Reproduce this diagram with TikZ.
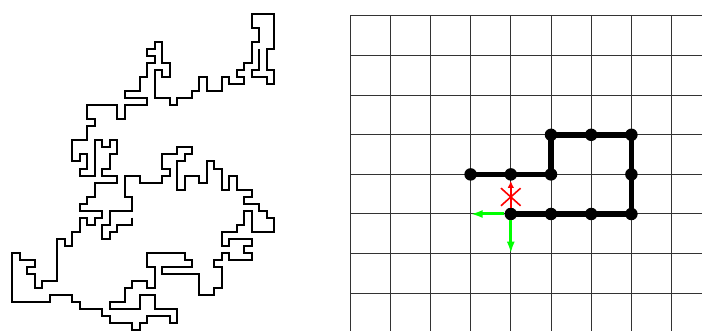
\documentclass[tikz,border=0pt]{standalone}
\usepackage{tikz}
\usetikzlibrary{arrows.meta,shapes.misc}

\tikzset{
  site/.style={circle,fill=black,inner sep=0pt,minimum size=12.5pt},
  lattice/.style={line width=1pt,black!80},
  walk/.style={line width=2pt},
  chain/.style={line width=5.5pt,line join=round},
  blocked/.style={-{Latex[length=7pt,width=6.5pt]},red,line width=2pt},
  allowed/.style={-{Latex[length=12pt,width=8pt]},green,line width=3pt}
}

\begin{document}
\begin{tikzpicture}[x=1pt,y=-1pt]
 \useasboundingbox (0,0) rectangle (702,331);
 \begin{scope}[shift={(12.3pt,-14pt)},x=7.487pt,y=-7.023pt]
 \draw[walk] (16,29) -- (16,30) -- (14,30) -- (14,31) -- (13,31) -- (13,32) -- (12,32) -- (12,30)
   -- (13,30) -- (13,28) -- (16,28) -- (16,26) -- (15,26) -- (15,23) -- (17,23) -- (17,24)
   -- (20,24) -- (20,23) -- (21,23) -- (21,22) -- (20,22) -- (20,20) -- (22,20) -- (22,19)
   -- (24,19) -- (24,20) -- (23,20) -- (23,21) -- (22,21) -- (22,25) -- (23,25) -- (23,23)
   -- (25,23) -- (25,24) -- (26,24) -- (26,21) -- (27,21) -- (27,22) -- (28,22) -- (28,25)
   -- (29,25) -- (29,23) -- (30,23) -- (30,25) -- (32,25) -- (32,26) -- (31,26) -- (31,27)
   -- (33,27) -- (33,28) -- (34,28) -- (34,29) -- (35,29) -- (35,31) -- (32,31) -- (32,28)
   -- (31,28) -- (31,30) -- (30,30) -- (30,31) -- (28,31) -- (28,33) -- (29,33) -- (29,32)
   -- (32,32) -- (32,33) -- (31,33) -- (31,34) -- (32,34) -- (32,35) -- (29,35) -- (29,34)
   -- (28,34) -- (28,35) -- (27,35) -- (27,36) -- (28,36) -- (28,39) -- (27,39) -- (27,40)
   -- (25,40) -- (25,37) -- (20,37) -- (20,36) -- (24,36) -- (24,35) -- (23,35) -- (23,34)
   -- (18,34) -- (18,36) -- (19,36) -- (19,39) -- (18,39) -- (18,38) -- (16,38) -- (16,39)
   -- (15,39) -- (15,41) -- (13,41) -- (13,42) -- (17,42) -- (17,40) -- (19,40) -- (19,42)
   -- (22,42) -- (22,44) -- (21,44) -- (21,43) -- (18,43) -- (18,44) -- (17,44) -- (17,45)
   -- (16,45) -- (16,44) -- (13,44) -- (13,43) -- (12,43) -- (12,42) -- (9,42) -- (9,41)
   -- (8,41) -- (8,40) -- (5,40) -- (5,41) -- (0,41) -- (0,34) -- (1,34) -- (1,35)
   -- (3,35) -- (3,36) -- (2,36) -- (2,37) -- (3,37) -- (3,39) -- (4,39) -- (4,38)
   -- (6,38) -- (6,32) -- (7,32) -- (7,33) -- (8,33) -- (8,31) -- (9,31) -- (9,29)
   -- (10,29) -- (10,30) -- (11,30) -- (11,29) -- (12,29) -- (12,28) -- (9,28) -- (9,27)
   -- (10,27) -- (10,26) -- (11,26) -- (11,24) -- (14,24) -- (14,23) -- (12,23) -- (12,22)
   -- (13,22) -- (13,20) -- (14,20) -- (14,18) -- (13,18) -- (13,19) -- (12,19) -- (12,18)
   -- (11,18) -- (11,23) -- (9,23) -- (9,22) -- (10,22) -- (10,20) -- (9,20) -- (9,21)
   -- (8,21) -- (8,18) -- (10,18) -- (10,16) -- (11,16) -- (11,15) -- (10,15) -- (10,13)
   -- (14,13) -- (14,15) -- (15,15) -- (15,13) -- (18,13) -- (18,12) -- (15,12) -- (15,11)
   -- (17,11) -- (17,9) -- (18,9) -- (18,7) -- (19,7) -- (19,6) -- (18,6) -- (18,5)
   -- (19,5) -- (19,4) -- (20,4) -- (20,7) -- (21,7) -- (21,9) -- (20,9) -- (20,8)
   -- (19,8) -- (19,12) -- (21,12) -- (21,13) -- (22,13) -- (22,12) -- (24,12) -- (24,11)
   -- (25,11) -- (25,9) -- (26,9) -- (26,11) -- (28,11) -- (28,9) -- (29,9) -- (29,10)
   -- (31,10) -- (31,9) -- (30,9) -- (30,8) -- (31,8) -- (31,7) -- (32,7) -- (32,4)
   -- (33,4) -- (33,2) -- (32,2) -- (32,0) -- (35,0) -- (35,5) -- (34,5) -- (34,8)
   -- (35,8) -- (35,10) -- (34,10) -- (34,9) -- (32,9) -- (32,8) -- (33,8) -- (33,5);
 \end{scope}
 \begin{scope}[shift={(350pt,-16pt)},x=40.2pt,y=-39.6pt]
 \foreach \c in {0,...,8} \draw[lattice] (\c,0) -- (\c,7.96);
 \foreach \r in {0,...,7} \draw[lattice] (0,\r) -- (8.76,\r);
 \foreach \p [count=\k] in {(3,4),(4,4),(5,4),(5,3),(6,3),(7,3),(7,4),(7,5),(6,5),(5,5),(4,5)}
   \node[site] (p\k) at \p {};
 \draw[chain] (p1.center) \foreach \k in {2,...,11} { -- (p\k.center) };
 \coordinate (west) at (3,5);
 \coordinate (south) at (4,6);
 \draw[blocked] (p11) -- (p2);
 \node[cross out,draw=red,line width=1.6pt,inner sep=0pt,minimum width=18pt,minimum height=16pt] (cross) at (4,4.57) {};
 \draw[allowed] (p11) -- (west);
 \draw[allowed] (p11) -- (south);
 \end{scope}
\end{tikzpicture}
\end{document}
